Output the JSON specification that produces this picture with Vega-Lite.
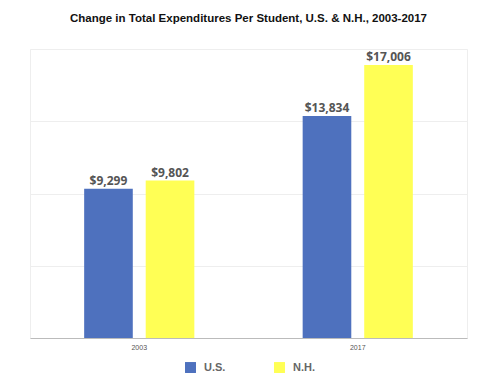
{
  "$schema": "https://vega.github.io/schema/vega-lite/v6.json",
  "width": 437,
  "height": 289,
  "autosize": "none",
  "padding": {"left": 30, "top": 49, "right": 33, "bottom": 37},
  "background": "white",
  "title": {
    "text": "Change in Total Expenditures Per Student, U.S. & N.H., 2003-2017",
    "font": "Liberation Sans",
    "fontSize": 11.5,
    "fontWeight": "bold",
    "color": "#111111",
    "anchor": "middle",
    "offset": 25
  },
  "data": {
    "values": [
      {"year": "2003", "series": "U.S.", "value": 9299, "label": "$9,299"},
      {"year": "2003", "series": "N.H.", "value": 9802, "label": "$9,802"},
      {"year": "2017", "series": "U.S.", "value": 13834, "label": "$13,834"},
      {"year": "2017", "series": "N.H.", "value": 17006, "label": "$17,006"}
    ]
  },
  "encoding": {
    "x": {
      "field": "year",
      "type": "nominal",
      "scale": {"paddingInner": 0, "paddingOuter": 0},
      "axis": {
        "title": null,
        "labelAngle": 0,
        "labelFontSize": 7,
        "labelFont": "Liberation Sans",
        "labelColor": "#555555",
        "ticks": false,
        "domainColor": "#bbbbbb",
        "labelPadding": 5
      }
    },
    "xOffset": {
      "field": "series",
      "type": "nominal",
      "sort": ["U.S.", "N.H."],
      "scale": {"paddingInner": 0.21, "paddingOuter": 0.88}
    },
    "y": {
      "field": "value",
      "type": "quantitative",
      "scale": {"domain": [0, 18000], "nice": false},
      "axis": {
        "title": null,
        "labels": false,
        "ticks": false,
        "domain": false,
        "values": [0, 4500, 9000, 13500, 18000],
        "gridColor": "#eeeeee"
      }
    }
  },
  "layer": [
    {
      "mark": {"type": "bar"},
      "encoding": {
        "color": {
          "field": "series",
          "type": "nominal",
          "sort": ["U.S.", "N.H."],
          "scale": {"domain": ["U.S.", "N.H."], "range": ["#4E71BE", "#FFFF55"]},
          "legend": {
            "title": null,
            "orient": "none",
            "direction": "horizontal",
            "legendX": 155,
            "legendY": 313,
            "symbolType": "square",
            "symbolSize": 120,
            "symbolStrokeWidth": 0,
            "labelFont": "Liberation Sans",
            "labelFontSize": 11,
            "labelFontWeight": "bold",
            "labelColor": "#666666",
            "columnPadding": 48,
            "labelOffset": 8
          }
        }
      }
    },
    {
      "mark": {"type": "text", "dy": -8, "font": "Open Sans", "fontSize": 12, "fontWeight": "bold", "color": "#555555"},
      "encoding": {
        "text": {"field": "label"}
      }
    }
  ],
  "config": {
    "view": {"stroke": "#eeeeee"}
  }
}
